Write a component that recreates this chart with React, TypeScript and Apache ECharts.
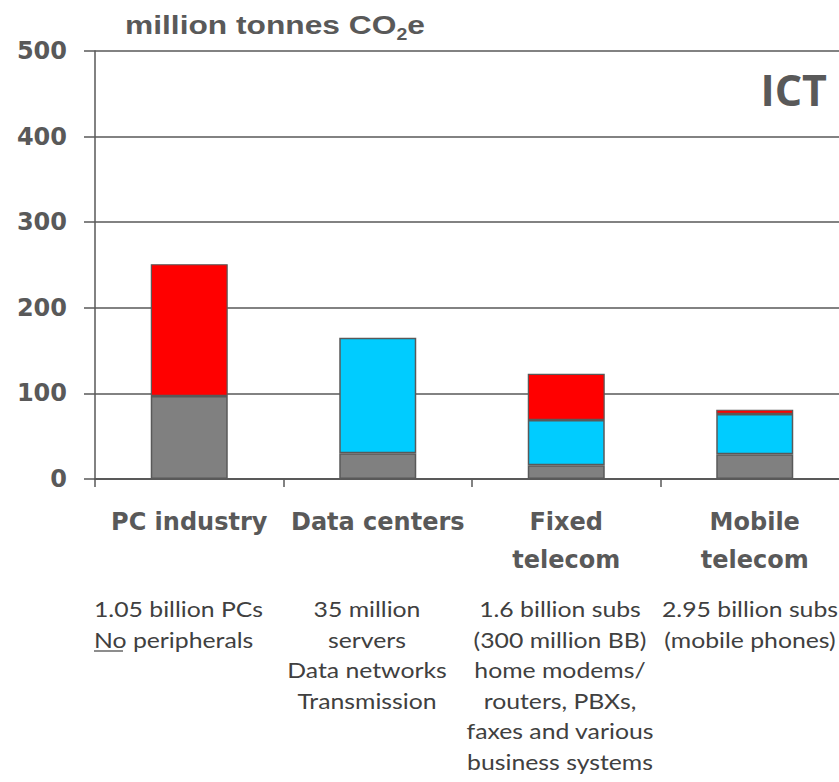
import React, { useEffect, useRef } from "react";
import * as echarts from "echarts";

const categories = ["PC industry", "Data centers", "Fixed\ntelecom", "Mobile\ntelecom"];
const baseValues = [97, 30, 16, 29];
const cyanValues: (number | null)[] = [null, 135, 53, 47];
const redValues: (number | null)[] = [154, null, 54, 5];
const yMin = 0;
const yMax = 500;
const yStep = 100;
const unitTitle = ["million tonnes CO", "2", "e"];
const cornerLabel = "ICT";
const descriptions = [
  "1.05 billion PCs\nNo peripherals",
  "35 million\nservers\nData networks\nTransmission",
  "1.6 billion subs\n(300 million BB)\nhome modems/\nrouters, PBXs,\nfaxes and various\nbusiness systems",
  "2.95 billion subs\n(mobile phones)",
];

const EDGE = "#595959";

export default function App() {
  const ref = useRef<HTMLDivElement>(null);
  useEffect(() => {
    if (!ref.current) return;
    const chart = echarts.init(ref.current, null, { renderer: "svg" });
    const descX = [94, 367, 560, 750];
    const descAlign = ["left", "center", "center", "center"];
    const graphics: any[] = [
      {
        type: "text",
        x: 125,
        y: 25,
        scaleX: 1.22,
        style: {
          text: `{a|${unitTitle[0]}}{b|${unitTitle[1]}}{a|${unitTitle[2]}}`,
          textAlign: "left",
          textVerticalAlign: "middle",
          rich: {
            a: { fontFamily: "Liberation Sans, Arial", fontWeight: "bold", fontSize: 26, fill: EDGE, lineHeight: 30 },
            b: { fontFamily: "Liberation Sans, Arial", fontWeight: "bold", fontSize: 16, fill: EDGE, lineHeight: 30, padding: [20, 0, 0, 0] },
          },
        },
      },
      {
        type: "text",
        x: 827,
        y: 89,
        style: {
          text: cornerLabel,
          textAlign: "right",
          textVerticalAlign: "middle",
          fontFamily: "Open Sans",
          fontWeight: "bold",
          fontSize: 43,
          fill: EDGE,
        },
      },
    ];
    descriptions.forEach((d, i) => {
      graphics.push({
        type: "text",
        x: descX[i],
        y: 594,
        scaleX: 1.18,
        style: {
          text: d,
          textAlign: descAlign[i],
          textVerticalAlign: "top",
          fontFamily: "Lato",
          fontSize: 21,
          lineHeight: 30.5,
          fill: "#404040",
        },
      });
    });
    graphics.push({
      type: "line",
      shape: { x1: 94, y1: 651, x2: 123, y2: 651 },
      style: { stroke: "#404040", lineWidth: 1.2 },
    });

    const barStyle = (color: string) => ({ color, borderColor: EDGE, borderWidth: 1.5 });

    chart.setOption({
      animation: false,
      grid: { left: 95, top: 51, width: 754, height: 428, containLabel: false, outerBoundsMode: "none" },
      xAxis: {
        type: "category",
        data: categories,
        axisLine: { show: true, lineStyle: { color: EDGE, width: 2 } },
        axisTick: { show: true, length: 8, lineStyle: { color: EDGE, width: 1.5 } },
        axisLabel: {
          interval: 0,
          margin: 24,
          color: EDGE,
          fontFamily: "DejaVu Sans",
          fontWeight: "bold",
          fontSize: 24,
          lineHeight: 38,
        },
      },
      yAxis: {
        type: "value",
        min: yMin,
        max: yMax,
        interval: yStep,
        axisLine: { show: true, lineStyle: { color: EDGE, width: 1.5 } },
        axisTick: { show: true, length: 11, lineStyle: { color: EDGE, width: 1.5 } },
        splitLine: { show: true, lineStyle: { color: EDGE, width: 1.5 } },
        axisLabel: {
          margin: 28,
          color: EDGE,
          fontFamily: "DejaVu Sans",
          fontWeight: "bold",
          fontSize: 24,
        },
      },
      series: [
        { type: "bar", stack: "a", data: baseValues, barWidth: 77, itemStyle: barStyle("#808080") },
        { type: "bar", stack: "a", data: cyanValues, barWidth: 77, itemStyle: barStyle("#00CCFF") },
        { type: "bar", stack: "a", data: redValues, barWidth: 77, itemStyle: { color: "#FF0000", borderColor: EDGE, borderWidth: 1.2 } },
      ],
      graphic: graphics,
    });
    return () => chart.dispose();
  }, []);
  return (
    <div
      ref={ref}
      style={{ position: "absolute", left: 0, top: 0, width: 839, height: 782, background: "#fff" }}
    />
  );
}
